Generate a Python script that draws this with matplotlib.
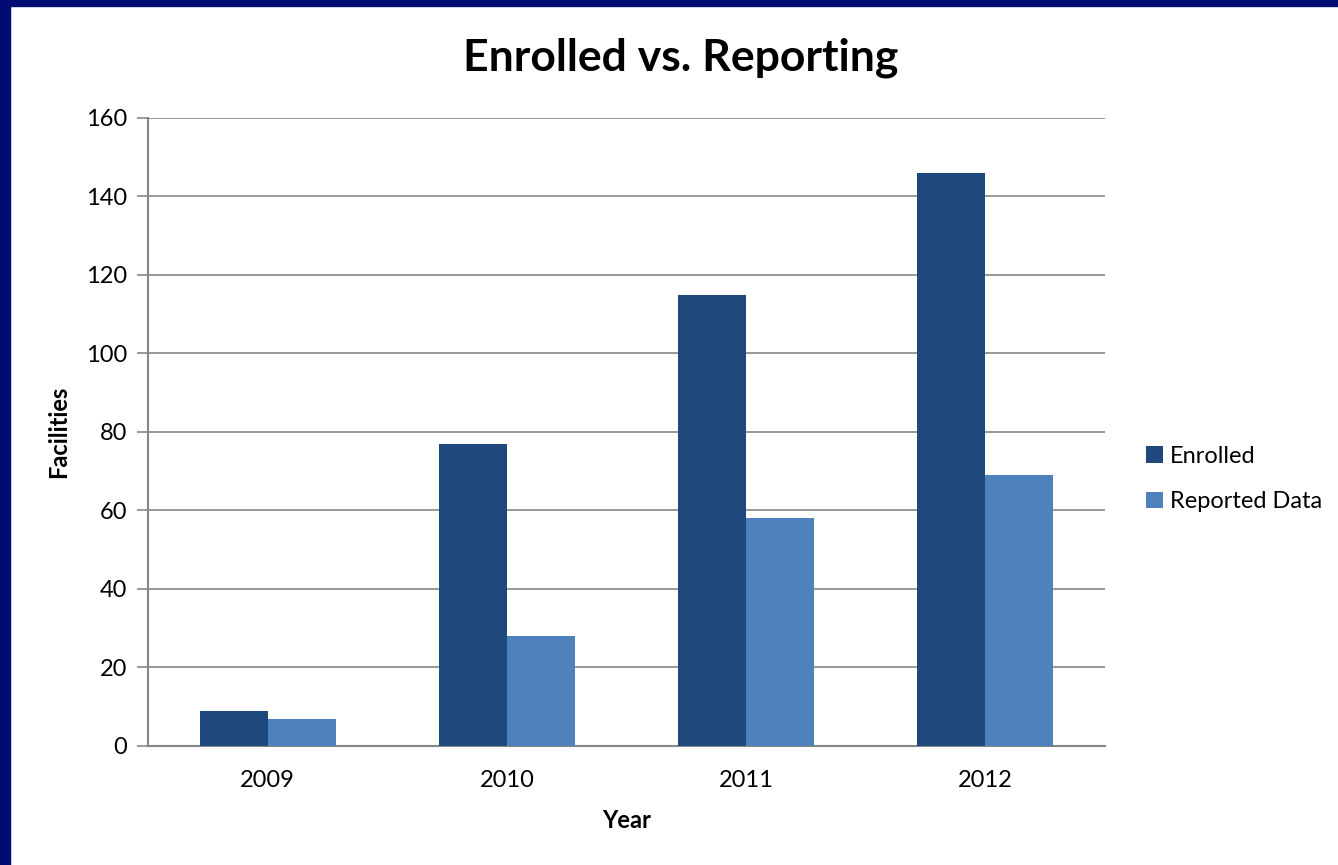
import numpy as np
import matplotlib.pyplot as plt
from matplotlib.patches import Rectangle

years = ["2009", "2010", "2011", "2012"]
enrolled = [9, 77, 115, 146]
reported = [7, 28, 58, 69]

plt.rcParams['font.family'] = ['Lato', 'DejaVu Sans']

fig = plt.figure(figsize=(13.38, 8.65), dpi=100)
ax = fig.add_axes([0.1106, 0.1376, 0.7153, 0.726])

# navy frame along top and left edges
fig.patches.append(Rectangle((0, 1 - 6 / 865), 1, 6 / 865, transform=fig.transFigure,
                             color='#000c73', zorder=0))
fig.patches.append(Rectangle((0, 0), 10 / 1338, 1, transform=fig.transFigure,
                             color='#000c73', zorder=0))

x = np.arange(len(years))
w = 0.284
ax.bar(x - w / 2, enrolled, w, color='#1F497D', label='Enrolled', zorder=3)
ax.bar(x + w / 2, reported, w, color='#4F81BD', label='Reported Data', zorder=3)

ax.set_xlim(-0.5, 3.5)
ax.set_ylim(0, 160)
ax.set_yticks(range(0, 161, 20))
ax.set_xticks(x)
ax.set_xticklabels(years)
ax.yaxis.grid(True, color='#868686', linewidth=1.2, zorder=0)
ax.set_axisbelow(True)

for s in ['top', 'right']:
    ax.spines[s].set_visible(False)
for s in ['left', 'bottom']:
    ax.spines[s].set_color('#868686')
    ax.spines[s].set_linewidth(1.5)

ax.tick_params(axis='y', length=8, width=1.2, color='#868686', labelsize=17, pad=7)
ax.tick_params(axis='x', length=0, labelsize=17, pad=17)

fig.text(0.509, 1 - 58 / 865, "Enrolled vs. Reporting", fontsize=32, fontweight='bold',
         ha='center', va='center')
ax.set_xlabel("Year", fontsize=17, fontweight='bold', labelpad=13)
ax.set_ylabel("Facilities", fontsize=17, fontweight='bold', labelpad=11)

ax.legend(loc='center left', bbox_to_anchor=(1.021, 0.425), frameon=False, fontsize=17,
          handlelength=0.7, handleheight=0.7, handletextpad=0.3, labelspacing=1.05)

fig.savefig('out.png', dpi=100)
